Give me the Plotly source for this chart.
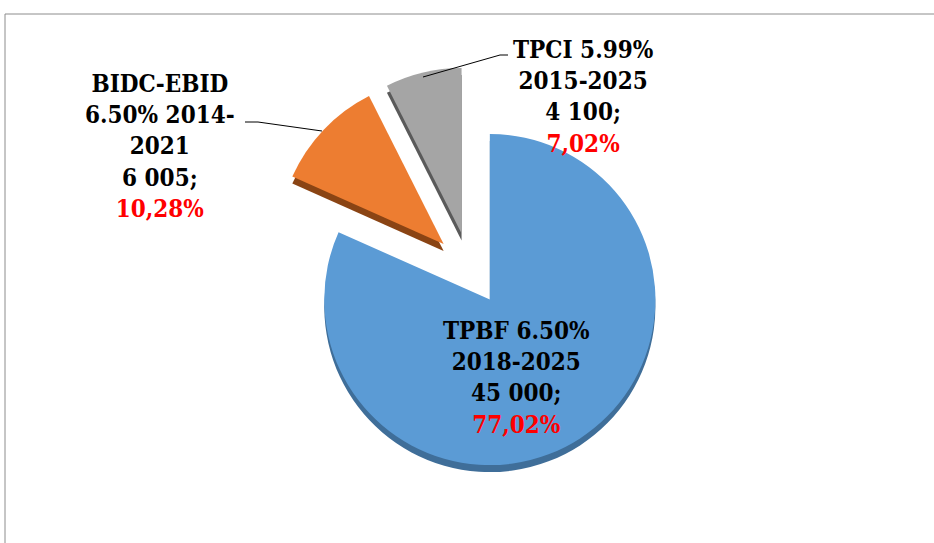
import plotly.graph_objects as go

W, H = 934, 543

# ---- data ----
names = ["TPBF 6.50%<br>2018-2025", "BIDC-EBID<br>6.50% 2014-<br>2021", "TPCI 5.99%<br>2015-2025"]
values = [45000, 6005, 4100]
shares = ["77,02%", "10,28%", "7,02%"]
colors = ["#5B9BD5", "#ED7D31", "#A5A5A5"]
edge_colors = ["#3F6E99", "#8A4414", "#5A5A5A"]

def px_x(x):
    return x / W

def px_y(y):
    return 1 - y / H

# pie geometry (pixels)
cx, cy, half = 470, 269, 202
dom_x = [px_x(cx - half), px_x(cx + half)]
dom_y = [px_y(cy + half), px_y(cy - half)]
shift = 7
dom_y_sh = [px_y(cy + half + shift), px_y(cy - half + shift)]

pull = [0.22, 0.22, 0.22]

fig = go.Figure()
# dark "thickness" underneath
fig.add_trace(go.Pie(
    values=values, labels=names, sort=False, direction="clockwise", rotation=0,
    pull=pull, marker=dict(colors=edge_colors, line=dict(width=0)),
    textinfo="none", hoverinfo="skip", showlegend=False,
    domain=dict(x=dom_x, y=dom_y_sh),
))
fig.add_trace(go.Pie(
    values=values, labels=names, sort=False, direction="clockwise", rotation=0,
    pull=pull, marker=dict(colors=colors, line=dict(width=0)),
    textinfo="none", hoverinfo="label+value", showlegend=False,
    domain=dict(x=dom_x, y=dom_y),
))

FONT = "DejaVu Serif Condensed, DejaVu Serif"
label_pos = [(516, 377), (160, 146), (583, 96)]
annotations = []
for name, v, s, (lx, ly) in zip(names, values, shares, label_pos):
    vtxt = f"{v:,}".replace(",", " ")
    txt = f"<b>{name}<br>{vtxt};<br><span style='color:#FF0000'>{s}</span></b>"
    annotations.append(dict(
        x=px_x(lx), y=px_y(ly), xref="paper", yref="paper",
        text=txt, showarrow=False, xanchor="center", yanchor="middle",
        align="center", font=dict(family=FONT, size=24, color="black"),
    ))

shapes = [
    dict(type="rect", xref="paper", yref="paper",
         x0=px_x(5), x1=px_x(945), y0=px_y(14), y1=px_y(560),
         line=dict(color="#8C8C8C", width=1), fillcolor="rgba(0,0,0,0)", layer="below"),
    dict(type="path", xref="paper", yref="paper",
         path=f"M {px_x(245)},{px_y(122)} L {px_x(258)},{px_y(122)} L {px_x(322)},{px_y(131)}",
         line=dict(color="black", width=1)),
    dict(type="path", xref="paper", yref="paper",
         path=f"M {px_x(423)},{px_y(77)} L {px_x(500)},{px_y(55)} L {px_x(508)},{px_y(55)}",
         line=dict(color="black", width=1)),
]

fig.update_layout(
    width=W, height=H, margin=dict(l=0, r=0, t=0, b=0),
    paper_bgcolor="white", plot_bgcolor="white",
    annotations=annotations, shapes=shapes, showlegend=False,
)

fig.write_html("out.html", config={"displayModeBar": False},
               post_script="document.body.style.margin='0';document.body.style.overflow='hidden';")
